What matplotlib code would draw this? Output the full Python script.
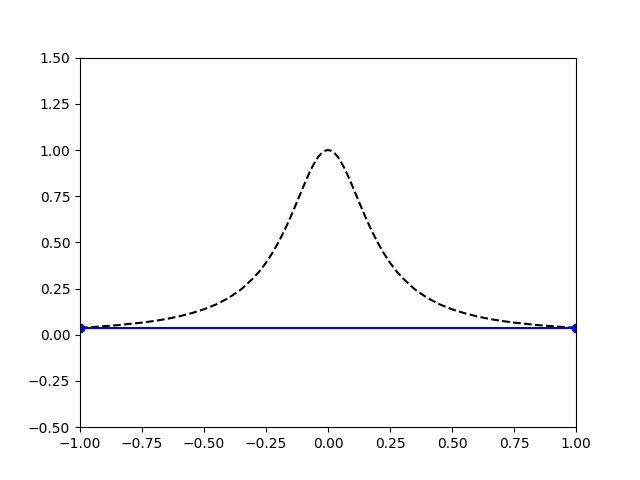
import numpy as np
import matplotlib
matplotlib.use('Agg')
import matplotlib.pyplot as plt

# dashed curve, values (symmetric about x=0)
x_half = [0.0, 0.0125, 0.025, 0.0375, 0.05, 0.0625, 0.075, 0.0875, 0.1,
          0.125, 0.15, 0.175, 0.2, 0.225, 0.25, 0.275, 0.3, 0.35, 0.4,
          0.45, 0.5, 0.55, 0.6, 0.65, 0.7, 0.75, 0.8, 0.85, 0.9, 0.95, 1.0]
y_half = [1.0, 0.996, 0.985, 0.966, 0.941, 0.911, 0.877, 0.839, 0.8,
          0.719, 0.64, 0.566, 0.5, 0.441, 0.39, 0.346, 0.308, 0.246, 0.2,
          0.165, 0.138, 0.117, 0.1, 0.086, 0.075, 0.066, 0.059, 0.052, 0.047, 0.042, 0.038]

curve_x = [-v for v in x_half[:0:-1]] + x_half
curve_y = y_half[:0:-1] + y_half

# interpolation nodes and the interpolating line
node_x = [-1.0, 1.0]
node_y = [0.038, 0.038]

fig, ax = plt.subplots(figsize=(6.4, 4.8), dpi=100)
ax.plot(curve_x, curve_y, 'k--')
ax.plot(node_x, node_y, 'b-')
ax.plot(node_x, node_y, 'bo')
ax.set_xlim(-1, 1)
ax.set_ylim(-0.5, 1.5)
plt.savefig('out.png')
